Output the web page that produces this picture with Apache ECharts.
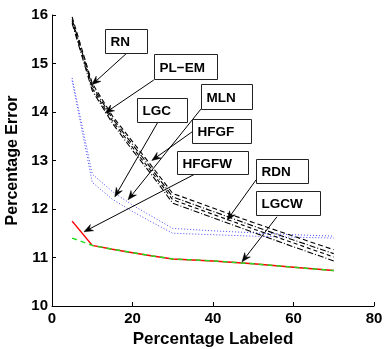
<!DOCTYPE html>
<html>
<head>
<meta charset="utf-8">
<script src="https://cdn.jsdelivr.net/npm/echarts@6/dist/echarts.min.js"></script>
<style>
  html, body { margin: 0; padding: 0; background: #fff; }
  #chart { width: 387px; height: 349px; }
</style>
</head>
<body>
<div id="chart"></div>
<script>
// Percentage of labeled nodes (x) and classification error (y) per method
const labeled = [5, 10, 15, 20, 25, 30, 40, 50, 60, 70];

const errRN    = [15.96, 14.59, 13.92, 13.39, 12.86, 12.32, 12.02, 11.72, 11.44, 11.16];
const errPLEM  = [15.91, 14.54, 13.87, 13.33, 12.80, 12.25, 11.95, 11.65, 11.36, 11.08];
const errHFGF  = [15.87, 14.49, 13.82, 13.27, 12.74, 12.19, 11.89, 11.59, 11.30, 11.01];
const errRDN   = [15.83, 14.44, 13.77, 13.21, 12.68, 12.12, 11.82, 11.52, 11.22, 10.93];
const errLGC   = [14.70, 12.72, 12.36, 12.08, 11.84, 11.60, 11.55, 11.51, 11.47, 11.44];
const errMLN   = [14.65, 12.55, 12.20, 11.95, 11.72, 11.50, 11.47, 11.44, 11.42, 11.40];
const errHFGFW = [11.75, 11.25, 11.17, 11.10, 11.03, 10.97, 10.93, 10.87, 10.80, 10.73];
const errLGCW  = [11.40, 11.25, 11.17, 11.10, 11.03, 10.97, 10.93, 10.87, 10.80, 10.73];

const xTicks = [0, 20, 40, 60, 80];
const yTicks = [10, 11, 12, 13, 14, 15, 16];

// Text-box callouts: box top-left and arrow ends are given in data units
const callouts = [
  { text: 'RN',    box: [13.2, 15.71], w: 42, h: 24, from: [18.4, 15.20], to: [9.9, 14.56] },
  { text: 'PL\u2212EM', box: [25.3, 15.20], w: 63, h: 25, from: [25.3, 14.66], to: [13.2, 13.98] },
  { text: 'LGC',   box: [21.1, 14.29], w: 50, h: 24, from: [26.3, 13.79], to: [15.6, 12.25] },
  { text: 'MLN',   box: [37.0, 14.58], w: 51, h: 25, from: [37.0, 14.06], to: [18.9, 12.19] },
  { text: 'HFGF',  box: [34.8, 13.86], w: 59, h: 24, from: [34.8, 13.59], to: [24.8, 13.00] },
  { text: 'HFGFW', box: [31.1, 13.20], w: 71, h: 23, from: [35.5, 12.72], to: [7.95, 11.53] },
  { text: 'RDN',   box: [50.7, 13.03], w: 52, h: 24, from: [50.7, 12.60], to: [43.5, 11.77] },
  { text: 'LGCW',  box: [50.7, 12.37], w: 64, h: 24, from: [55.9, 11.84], to: [47.2, 10.91] }
];

const FONT = '"Liberation Sans", Arial, Helvetica, sans-serif';

function pairs(ys) { return labeled.map((x, i) => [x, ys[i]]); }

function line(name, ys, color, width, type, z) {
  return {
    name, type: 'line', data: pairs(ys), symbol: 'none', z: z || 2,
    lineStyle: { color, width, type },
    emphasis: { disabled: true }
  };
}

const chart = echarts.init(document.getElementById('chart'), null, { renderer: 'canvas' });

chart.setOption({
  animation: false,
  backgroundColor: '#fff',
  grid: { left: 52, right: 13, top: 15, bottom: 43, containLabel: false, outerBoundsMode: 'none' },
  xAxis: {
    type: 'value', min: xTicks[0], max: xTicks[xTicks.length - 1], interval: 20,
    name: 'Percentage Labeled', nameLocation: 'middle', nameGap: 22,
    nameTextStyle: { fontFamily: FONT, fontWeight: 'bold', fontSize: 17, color: '#000' },
    axisLine: { lineStyle: { color: '#000', width: 1 } },
    axisTick: { inside: true, length: 4, lineStyle: { color: '#000' } },
    axisLabel: { fontFamily: FONT, fontWeight: 'bold', fontSize: 15, color: '#000', margin: 5 },
    splitLine: { show: false }
  },
  yAxis: {
    type: 'value', min: yTicks[0], max: yTicks[yTicks.length - 1], interval: 1,
    name: 'Percentage Error', nameLocation: 'middle', nameGap: 30,
    nameTextStyle: { fontFamily: FONT, fontWeight: 'bold', fontSize: 16, color: '#000' },
    axisLine: { show: true, lineStyle: { color: '#000', width: 1 } },
    axisTick: { show: true, inside: true, length: 4, lineStyle: { color: '#000' } },
    axisLabel: { fontFamily: FONT, fontWeight: 'bold', fontSize: 15, color: '#000', margin: 4 },
    splitLine: { show: false }
  },
  series: [
    line('LGC', errLGC, '#4a4aff', 1, [1, 2]),
    line('MLN', errMLN, '#4a4aff', 1, [1, 2]),
    line('RN', errRN, '#000', 1.1, [5, 3]),
    line('PL-EM', errPLEM, '#000', 1.1, [6, 2, 1, 2]),
    line('HFGF', errHFGF, '#000', 1.1, [4, 3]),
    line('RDN', errRDN, '#000', 1.1, [6, 2, 1, 2]),
    line('HFGFW', errHFGFW, '#ff0000', 1.5, 'solid', 3),
    line('LGCW', errLGCW, '#22dd22', 1.5, [5, 4], 4)
  ]
});

// Callout boxes and arrows, placed through the grid's coordinate system
function toPx(p) { return chart.convertToPixel({ gridIndex: 0 }, p); }

const elements = [];
callouts.forEach(c => {
  const tl = toPx(c.box);
  const a = toPx(c.from);
  const b = toPx(c.to);
  const ang = Math.atan2(b[1] - a[1], b[0] - a[0]);
  const L = 9, W = 3.5, N = 6;
  const ca = Math.cos(ang), sa = Math.sin(ang);
  const back = (d, s) => [b[0] - d * ca - s * sa, b[1] - d * sa + s * ca];
  elements.push({
    type: 'line', z: 50, silent: true,
    shape: { x1: a[0], y1: a[1], x2: b[0] - N * ca, y2: b[1] - N * sa },
    style: { stroke: '#000', lineWidth: 1 }
  });
  elements.push({
    type: 'polygon', z: 50, silent: true,
    shape: { points: [b, back(L, W), back(N, 0), back(L, -W)] },
    style: { fill: '#000', stroke: '#000', lineWidth: 0.5 }
  });
  const x0 = Math.round(tl[0]) + 0.5, y0 = Math.round(tl[1]) + 0.5;
  elements.push({
    type: 'rect', z: 60, silent: true,
    shape: { x: x0, y: y0, width: c.w, height: c.h },
    style: { fill: '#fff', stroke: '#222', lineWidth: 1 }
  });
  elements.push({
    type: 'text', z: 61, silent: true,
    x: x0 + 5, y: y0 + c.h / 2 + 1,
    style: {
      text: c.text, fill: '#000',
      font: 'bold 13.5px ' + FONT,
      textVerticalAlign: 'middle', verticalAlign: 'middle',
      textAlign: 'left', align: 'left'
    }
  });
});
chart.setOption({ graphic: { elements } });
</script>
</body>
</html>
